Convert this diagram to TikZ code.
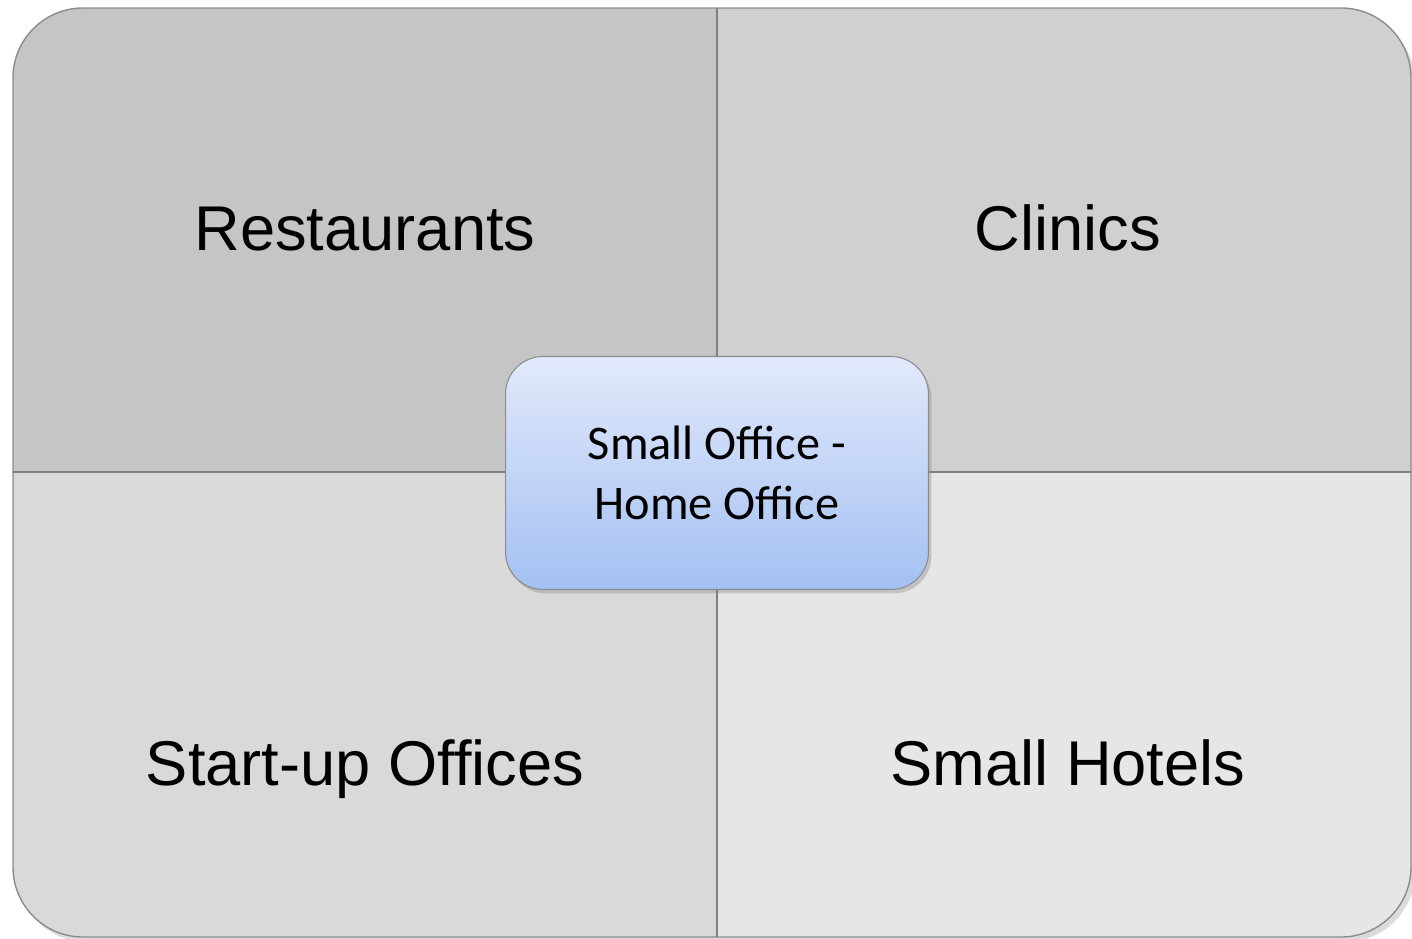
\documentclass[tikz,border=0pt]{standalone}
\usepackage{fontspec}
\setmainfont{Liberation Sans}
\newfontfamily\calibrifont{Carlito}
\usetikzlibrary{shadows}
\definecolor{quadA}{RGB}{197,197,197}
\definecolor{quadB}{RGB}{208,208,208}
\definecolor{quadC}{RGB}{217,217,217}
\definecolor{quadD}{RGB}{230,230,230}
\definecolor{hubtop}{RGB}{226,233,251}
\definecolor{hubbottom}{RGB}{164,192,242}
\tikzstyle{label}=[font=\fontsize{36}{40}\selectfont,text=black,anchor=base]
\tikzstyle{hub}=[rounded corners=0.75cm,draw=black!45,line width=0.6pt,
    top color=hubtop,bottom color=hubbottom,minimum width=8.46cm,minimum height=4.66cm,
    align=center,font=\calibrifont\fontsize{27.5}{34}\selectfont,
    drop shadow={shadow xshift=0.06cm,shadow yshift=-0.08cm,opacity=0.35}]

\begin{document}
\begin{tikzpicture}[x=0.02cm,y=-0.02cm]
    \tikzstyle{divider}=[draw=black!50,line width=0.8pt]
    \useasboundingbox (0,0) rectangle (1412,939);
    \fill[black!40,opacity=0.35,rounded corners=1.4cm] (17,13) rectangle (1415,942);
    \begin{scope}
        \clip[rounded corners=1.4cm] (13,8) rectangle (1411,937);
        \fill[quadA] (13,8) rectangle (717,472);
        \fill[quadB] (717,8) rectangle (1411,472);
        \fill[quadC] (13,472) rectangle (717,937);
        \fill[quadD] (717,472) rectangle (1411,937);
    \end{scope}
    \draw[black!45,line width=0.8pt,rounded corners=1.4cm] (13,8) rectangle (1411,937);
    \coordinate (top) at (717,8);
    \coordinate (bottom) at (717,937);
    \coordinate (left) at (13,472);
    \coordinate (right) at (1411,472);
    \draw[divider] (top) -- (bottom);
    \draw[divider] (left) -- (right);
    \node[label] (rest) at (365,250) {Restaurants};
    \node[label] (clin) at (1068,250) {Clinics};
    \node[label] (start) at (365,785) {Start-up Offices};
    \node[label] (hotel) at (1068,785) {Small Hotels};
    \node[hub] (soho) at (717,473) {Small Office -\\Home Office};
\end{tikzpicture}
\end{document}
